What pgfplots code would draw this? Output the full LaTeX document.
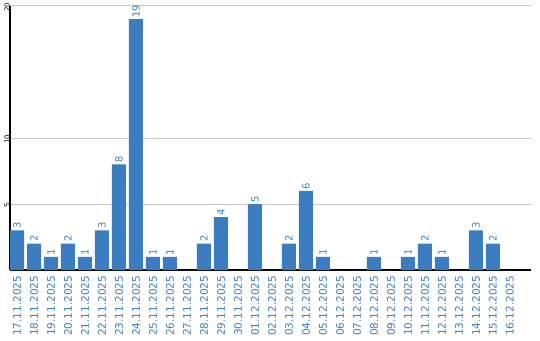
\documentclass[border=0pt]{standalone}
\usepackage{fontspec}
\setmainfont{DejaVu Sans}
\usepackage{pgfplots}
\pgfplotsset{compat=1.18}
\definecolor{barblue}{RGB}{59,125,193}
\definecolor{gridgray}{RGB}{200,200,200}
\begin{document}
\begin{tikzpicture}[x=1bp,y=1bp]
\path[use as bounding box] (0,0) rectangle (540,340);
\begin{axis}[
  at={(10bp,70bp)}, anchor=south west,
  scale only axis, width=521bp, height=264bp,
  xmin=-0.412, xmax=30.24, ymin=0, ymax=20,
  axis x line*=bottom, axis y line*=left,
  axis line style={-, line width=1.5bp, black},
  ytick={5,10,20}, xtick={0,...,29},
  xticklabels={17.11.2025,18.11.2025,19.11.2025,20.11.2025,21.11.2025,22.11.2025,23.11.2025,24.11.2025,25.11.2025,26.11.2025,27.11.2025,28.11.2025,29.11.2025,30.11.2025,01.12.2025,02.12.2025,03.12.2025,04.12.2025,05.12.2025,06.12.2025,07.12.2025,08.12.2025,09.12.2025,10.12.2025,11.12.2025,12.12.2025,13.12.2025,14.12.2025,15.12.2025,16.12.2025},
  major tick length=0,
  ymajorgrids, grid style={gridgray, line width=1bp},
  /pgf/number format/assume math mode=true,
  xticklabel style={rotate=90, anchor=east, inner sep=0pt, outer xsep=6bp, outer ysep=0pt, text=barblue, font=\fontsize{10.5}{12}\selectfont},
  yticklabel style={rotate=90, anchor=south, inner sep=0pt, xshift=-1bp, text=black, font=\fontsize{7}{8}\selectfont},
  ybar, bar width=14bp, bar shift=0pt,
  nodes near coords={\pgfmathfloatifflags{\pgfplotspointmeta}{0}{}{\pgfmathprintnumber{\pgfplotspointmeta}}},
  every node near coord/.append style={rotate=90, anchor=west, inner sep=1.5bp, text=barblue, font=\fontsize{10}{11}\selectfont},
  clip=false,
]
\addplot[fill=barblue, draw=none] coordinates {
(0,3)(1,2)(2,1)(3,2)(4,1)(5,3)(6,8)(7,19)(8,1)(9,1)
(10,0)(11,2)(12,4)(13,0)(14,5)(15,0)(16,2)(17,6)(18,1)(19,0)
(20,0)(21,1)(22,0)(23,1)(24,2)(25,1)(26,0)(27,3)(28,2)(29,0)
};
\end{axis}
\end{tikzpicture}
\end{document}
